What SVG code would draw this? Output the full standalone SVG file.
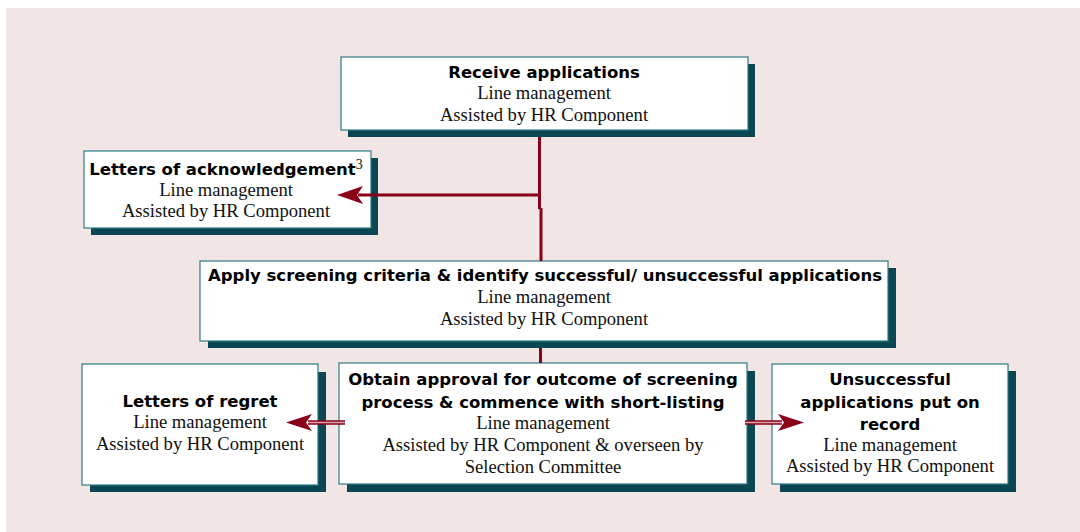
<svg xmlns="http://www.w3.org/2000/svg" width="1080" height="532" viewBox="0 0 1080 532">
<style>
.bg{fill:#f1e5e5}
.shadow{fill:#0b4753}
.box{fill:#ffffff;stroke:#2d7a85;stroke-width:1.2}
.h{font-family:"DejaVu Sans",Verdana,sans-serif;font-weight:bold;font-size:16.5px;fill:#000;text-anchor:middle}
.t{font-family:"Liberation Serif","Times New Roman",serif;font-size:18.6px;fill:#111;text-anchor:middle}
.sup{font-family:"Liberation Serif","Times New Roman",serif;font-weight:normal;font-size:14px;fill:#111}
.ln{fill:none;stroke:#8a0018;stroke-width:3}
.dbl{fill:none;stroke:#8a0018;stroke-width:4.5}
.dblin{fill:none;stroke:#d9a7ad;stroke-width:1.4}
.head{fill:#8a0018}
</style>
<rect class="bg" x="6" y="8" width="1074" height="524"/>

<g id="receive">
<rect class="shadow" x="348" y="64" width="407" height="73"/>
<rect class="box" x="341" y="57" width="407" height="73"/>
<text class="h" x="544" y="78">Receive applications</text>
<text class="t" x="544" y="99">Line management</text>
<text class="t" x="544" y="121">Assisted by HR Component</text>
</g>

<g id="acknowledgement">
<rect class="shadow" x="91" y="158" width="287" height="77"/>
<rect class="box" x="84" y="151" width="287" height="77"/>
<text class="h" x="226" y="175">Letters of acknowledgement<tspan class="sup" dy="-6">3</tspan></text>
<text class="t" x="226" y="196">Line management</text>
<text class="t" x="226" y="217">Assisted by HR Component</text>
</g>

<g id="screening">
<rect class="shadow" x="208" y="268" width="688" height="80"/>
<rect class="box" x="200" y="261" width="688" height="80"/>
<text class="h" x="545" y="281">Apply screening criteria &amp; identify successful/ unsuccessful applications</text>
<text class="t" x="544" y="303">Line management</text>
<text class="t" x="544" y="325">Assisted by HR Component</text>
</g>

<g id="regret">
<rect class="shadow" x="90" y="372" width="236" height="120"/>
<rect class="box" x="82" y="364" width="236" height="121"/>
<text class="h" x="200" y="407">Letters of regret</text>
<text class="t" x="200" y="428">Line management</text>
<text class="t" x="200" y="450">Assisted by HR Component</text>
</g>

<g id="approval">
<rect class="shadow" x="347" y="371" width="408" height="121"/>
<rect class="box" x="339" y="363" width="408" height="121"/>
<text class="h" x="543" y="385">Obtain approval for outcome of screening</text>
<text class="h" x="543" y="408">process &amp; commence with short-listing</text>
<text class="t" x="543" y="429">Line management</text>
<text class="t" x="543" y="451">Assisted by HR Component &amp; overseen by</text>
<text class="t" x="543" y="473">Selection Committee</text>
</g>

<g id="unsuccessful">
<rect class="shadow" x="780" y="371" width="236" height="121"/>
<rect class="box" x="772" y="364" width="236" height="120"/>
<text class="h" x="890" y="385">Unsuccessful</text>
<text class="h" x="890" y="408">applications put on</text>
<text class="h" x="890" y="430">record</text>
<text class="t" x="890" y="451">Line management</text>
<text class="t" x="890" y="472">Assisted by HR Component</text>
</g>

<g id="connectors">
<path class="ln" d="M539.5 137 V209"/>
<path class="ln" d="M541 208 V261"/>
<path class="ln" d="M539.5 195 H358"/>
<path class="head" d="M337 195 L363 186 L357 195 L363 204 Z"/>
<path class="ln" d="M540.5 348 V363"/>
<path class="dbl" d="M345 422.5 H308"/>
<path class="dblin" d="M345 422.5 H308"/>
<path class="head" d="M286 422.5 L312 414 L306 422.5 L312 431 Z"/>
<path class="dbl" d="M745 422.5 H782"/>
<path class="dblin" d="M745 422.5 H782"/>
<path class="head" d="M804 422.5 L778 414 L784 422.5 L778 431 Z"/>
</g>
</svg>
